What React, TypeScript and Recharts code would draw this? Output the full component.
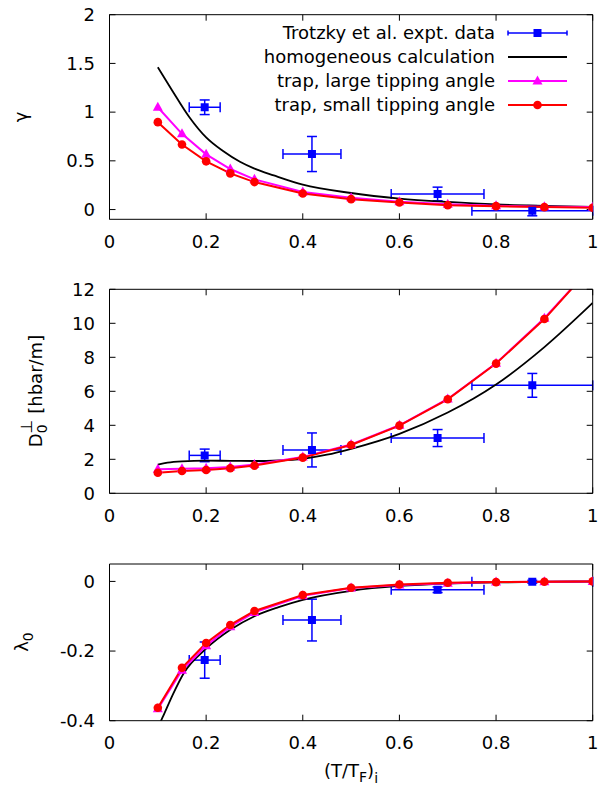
import React from "react";
import { ComposedChart, Line, Scatter, ErrorBar, XAxis, YAxis, Legend, ReferenceLine } from "recharts";

const FONT = "'DejaVu Sans', sans-serif";
const BLUE = "#0000ff";
const RED = "#ff0000";
const MAGENTA = "#ff00ff";

const xTicks = [0, 0.2, 0.4, 0.6, 0.8, 1];
const gammaTicks = [0, 0.5, 1, 1.5, 2];
const d0Ticks = [0, 2, 4, 6, 8, 10, 12];
const lambdaTicks = [-0.4, -0.2, 0];

// Trotzky et al. experiment
const exptX = [0.197, 0.419, 0.679, 0.875];
const exptXErr = [0.032, 0.06, 0.096, 0.125];
const exptGamma = [1.05, 0.57, 0.16, -0.012];
const exptGammaErr = [0.075, 0.18, 0.07, 0.052];
const exptD0 = [2.23, 2.55, 3.25, 6.35];
const exptD0Err = [0.37, 1.0, 0.5, 0.7];
const exptLambda = [-0.226, -0.111, -0.024, -0.001];
const exptLambdaErr = [0.052, 0.06, 0.008, 0.004];

// trap calculations
const trapX = [0.1, 0.15, 0.2, 0.25, 0.3, 0.4, 0.5, 0.6, 0.7, 0.8, 0.9, 1.0];
const gammaLarge = [1.05, 0.777, 0.567, 0.416, 0.31, 0.18, 0.12, 0.08, 0.055, 0.04, 0.03, 0.025];
const gammaSmall = [0.897, 0.667, 0.495, 0.371, 0.282, 0.165, 0.107, 0.072, 0.045, 0.035, 0.025, 0.018];
const d0Large = [1.42, 1.45, 1.48, 1.55, 1.7, 2.13, 2.87, 4.0, 5.55, 7.65, 10.3, 13.4];
const d0Small = [1.21, 1.31, 1.37, 1.47, 1.63, 2.1, 2.84, 3.98, 5.53, 7.63, 10.25, 13.4];
const lambdaLarge = [-0.366, -0.255, -0.185, -0.13, -0.089, -0.041, -0.019, -0.01, -0.005, -0.002, -0.001, 0];
const lambdaSmall = [-0.363, -0.248, -0.177, -0.125, -0.085, -0.039, -0.018, -0.009, -0.004, -0.002, -0.001, 0];

// homogeneous calculation
const homGammaX = [0.1, 0.13, 0.165, 0.2, 0.235, 0.27, 0.3, 0.34, 0.4, 0.5, 0.6, 0.7, 0.8, 0.9, 1.0];
const homGamma = [1.46, 1.22, 0.95, 0.74, 0.6, 0.49, 0.42, 0.35, 0.255, 0.17, 0.113, 0.078, 0.052, 0.038, 0.028];
const homD0X = [0.1, 0.12, 0.15, 0.2, 0.25, 0.3, 0.35, 0.4, 0.45, 0.5, 0.6, 0.7, 0.8, 0.9, 1.0];
const homD0 = [1.68, 1.8, 1.88, 1.92, 1.91, 1.9, 1.93, 2.03, 2.27, 2.62, 3.5, 4.75, 6.4, 8.6, 11.2];
const homLambdaX = [0.1, 0.11, 0.132, 0.153, 0.2, 0.25, 0.3, 0.35, 0.4, 0.5, 0.6, 0.7, 0.8, 0.9, 1.0];
const homLambda = [-0.42, -0.39, -0.322, -0.265, -0.193, -0.139, -0.1, -0.074, -0.053, -0.027, -0.013, -0.006, -0.003, -0.001, 0];

const legendNames = [
  "Trotzky et al. expt. data",
  "homogeneous calculation",
  "trap, large tipping angle",
  "trap, small tipping angle",
];

const zip = (xs: number[], ys: number[]) => xs.map((x, i) => ({ x, y: ys[i] }));
const withErr = (ys: number[], errs: number[]) =>
  exptX.map((x, i) => ({ x, y: ys[i], ex: exptXErr[i], ey: errs[i] }));

const Triangle = (p: any) => {
  const { cx, cy, index } = p;
  if (cx == null || cy == null) return <g key={index} />;
  return (
    <path
      key={index}
      d={`M${cx},${cy - 5.5}L${cx + 5},${cy + 3.5}L${cx - 5},${cy + 3.5}Z`}
      fill={MAGENTA}
    />
  );
};

const TICK_PX = 6; // gnuplot-style inward tick marks
const PLOT_W = 483.2;
const BOTTOM_GAP = 16;
const LEFT_GAP = 14.5;

const BottomTick = (p: any) => (
  <text x={p.x} y={p.y} dy="0.71em" textAnchor="middle" fontSize={18} fill="#000">
    {p.payload.value}
  </text>
);
const LeftTick = (p: any) => (
  <text x={p.x} y={p.y} dy="0.35em" textAnchor="end" fontSize={18} fill="#000">
    {p.payload.value}
  </text>
);

function LegendBox() {
  const rowY = (i: number) => 33 + i * 24;
  return (
    <svg width={600} height={120} style={{ display: "block", fontFamily: FONT }}>
      {legendNames.map((name, i) => (
        <text key={name} x={495} y={rowY(i)} dy="0.35em" textAnchor="end" fontSize={18} fill="#000">
          {name}
        </text>
      ))}
      <g stroke={BLUE} strokeWidth={1.5}>
        <line x1={508} x2={567} y1={rowY(0)} y2={rowY(0)} />
        <line x1={508} x2={508} y1={rowY(0) - 2.5} y2={rowY(0) + 2.5} />
        <line x1={567} x2={567} y1={rowY(0) - 2.5} y2={rowY(0) + 2.5} />
      </g>
      <rect x={533.5} y={rowY(0) - 4} width={8} height={8} fill={BLUE} />
      <line x1={508} x2={567} y1={rowY(1)} y2={rowY(1)} stroke="#000" strokeWidth={1.8} />
      <line x1={508} x2={567} y1={rowY(2)} y2={rowY(2)} stroke={MAGENTA} strokeWidth={2} />
      <Triangle cx={537.5} cy={rowY(2)} index={0} />
      <line x1={508} x2={567} y1={rowY(3)} y2={rowY(3)} stroke={RED} strokeWidth={2} />
      <circle cx={537.5} cy={rowY(3)} r={4.3} fill={RED} />
    </svg>
  );
}

interface PanelProps {
  top: number;
  height: number;
  plotTop: number;
  plotBottom: number;
  yDomain: [number, number];
  yTicks: number[];
  yLabel: React.ReactNode;
  expt: { x: number; y: number; ex: number; ey: number }[];
  hom: { x: number; y: number }[];
  large: { x: number; y: number }[];
  small: { x: number; y: number }[];
  xTitle?: boolean;
  legend?: boolean;
}

function Panel(p: PanelProps) {
  const axisH = 30;
  const margin = {
    top: p.plotTop - 1,
    right: 600 - 592.7 - 1,
    left: 0,
    bottom: p.height - p.plotBottom - axisH,
  };
  const [y0, y1] = p.yDomain;
  const dx = TICK_PX / PLOT_W;
  const dy = (TICK_PX * (y1 - y0)) / (p.plotBottom - p.plotTop);
  const tickSegs = [
    ...xTicks.map((t) => [{ x: t, y: y0 }, { x: t, y: y0 + dy }]),
    ...xTicks.map((t) => [{ x: t, y: y1 - dy }, { x: t, y: y1 }]),
    ...p.yTicks.map((t) => [{ x: 0, y: t }, { x: dx, y: t }]),
    ...p.yTicks.map((t) => [{ x: 1 - dx, y: t }, { x: 1, y: t }]),
  ];
  return (
    <div style={{ position: "absolute", left: 0, top: p.top, width: 600, height: p.height }}>
      <ComposedChart width={600} height={p.height} margin={margin}>
        <XAxis
          type="number" dataKey="x" domain={[0, 1]} ticks={xTicks} interval={0}
          allowDataOverflow height={axisH} tickSize={0} tickMargin={BOTTOM_GAP}
          tick={BottomTick} tickLine={false} stroke="#000"
          label={p.xTitle ? {
            content: () => (
              <text x={351} y={237} textAnchor="middle" fontSize={18} fill="#000">
                (T/T<tspan dy={5} fontSize={14}>F</tspan>
                <tspan dy={-5}>)</tspan>
                <tspan dy={6} fontSize={14}>i</tspan>
              </text>
            ),
          } : undefined}
        />
        <XAxis
          xAxisId="top" orientation="top" type="number" dataKey="x" domain={[0, 1]}
          ticks={xTicks} interval={0} allowDataOverflow height={1} tickSize={0}
          tick={false} tickLine={false} stroke="#000"
        />
        <YAxis
          type="number" domain={p.yDomain} ticks={p.yTicks} interval={0}
          allowDataOverflow width={109.5} tickSize={0} tickMargin={LEFT_GAP}
          tick={LeftTick} tickLine={false} stroke="#000"
          label={{ content: () => p.yLabel }}
        />
        <YAxis
          yAxisId="right" orientation="right" type="number" domain={p.yDomain}
          ticks={p.yTicks} interval={0} allowDataOverflow width={1} tickSize={0}
          tick={false} tickLine={false} stroke="#000"
        />
        {tickSegs.map((seg, i) => (
          <ReferenceLine key={`t${i}`} segment={seg} stroke="#000" strokeWidth={1} ifOverflow="visible" />
        ))}
        <Scatter data={p.expt} dataKey="y" fill={BLUE} shape="square" isAnimationActive={false}>
          <ErrorBar dataKey="ex" direction="x" width={5} stroke={BLUE} strokeWidth={1.5} isAnimationActive={false} />
          <ErrorBar dataKey="ey" direction="y" width={5} stroke={BLUE} strokeWidth={1.5} isAnimationActive={false} />
        </Scatter>
        <Line data={p.hom} dataKey="y" type="monotone" stroke="#000" strokeWidth={1.8}
          dot={false} activeDot={false} isAnimationActive={false} />
        <Line data={p.large} dataKey="y" type="linear" stroke={MAGENTA} strokeWidth={2}
          dot={Triangle} activeDot={false} isAnimationActive={false} />
        <Line data={p.small} dataKey="y" type="linear" stroke={RED} strokeWidth={2}
          dot={{ r: 4.3, fill: RED, stroke: "none" }} activeDot={false} isAnimationActive={false} />
        {p.legend && (
          <Legend
            layout="vertical" align="center" verticalAlign="middle"
            content={() => <LegendBox />}
            wrapperStyle={{ left: 0, top: 0, width: 600, height: 120 }}
          />
        )}
      </ComposedChart>
    </div>
  );
}

export default function App() {
  return (
    <div style={{ position: "absolute", left: 0, top: 0, width: 600, height: 787, background: "#fff", fontFamily: FONT }}>
      <Panel
        top={0} height={260} plotTop={14.7} plotBottom={219.3}
        yDomain={[-0.1, 2]} yTicks={gammaTicks}
        yLabel={
          <text transform="translate(27,117) rotate(-90)" textAnchor="middle" fontSize={18} fill="#000">γ</text>
        }
        expt={withErr(exptGamma, exptGammaErr)}
        hom={zip(homGammaX, homGamma)}
        large={zip(trapX, gammaLarge)}
        small={zip(trapX, gammaSmall)}
        legend
      />
      <Panel
        top={270} height={270} plotTop={19.3} plotBottom={223.3}
        yDomain={[0, 12]} yTicks={d0Ticks}
        yLabel={
          <text transform="translate(42,121) rotate(-90)" textAnchor="middle" fontSize={18} fill="#000">
            D<tspan dy={5} fontSize={14}>0</tspan>
            <tspan dx={-9} dy={-15} fontSize={16}>⊥</tspan>
            <tspan dy={10}> [hbar/m]</tspan>
          </text>
        }
        expt={withErr(exptD0, exptD0Err)}
        hom={zip(homD0X, homD0)}
        large={zip(trapX, d0Large)}
        small={zip(trapX, d0Small)}
      />
      <Panel
        top={540} height={247} plotTop={24} plotBottom={180.7}
        yDomain={[-0.4, 0.05]} yTicks={lambdaTicks}
        yLabel={
          <text transform="translate(28,102) rotate(-90)" textAnchor="middle" fontSize={18} fill="#000">
            λ<tspan dy={5} fontSize={14}>0</tspan>
          </text>
        }
        expt={withErr(exptLambda, exptLambdaErr)}
        hom={zip(homLambdaX, homLambda)}
        large={zip(trapX, lambdaLarge)}
        small={zip(trapX, lambdaSmall)}
        xTitle
      />
    </div>
  );
}
